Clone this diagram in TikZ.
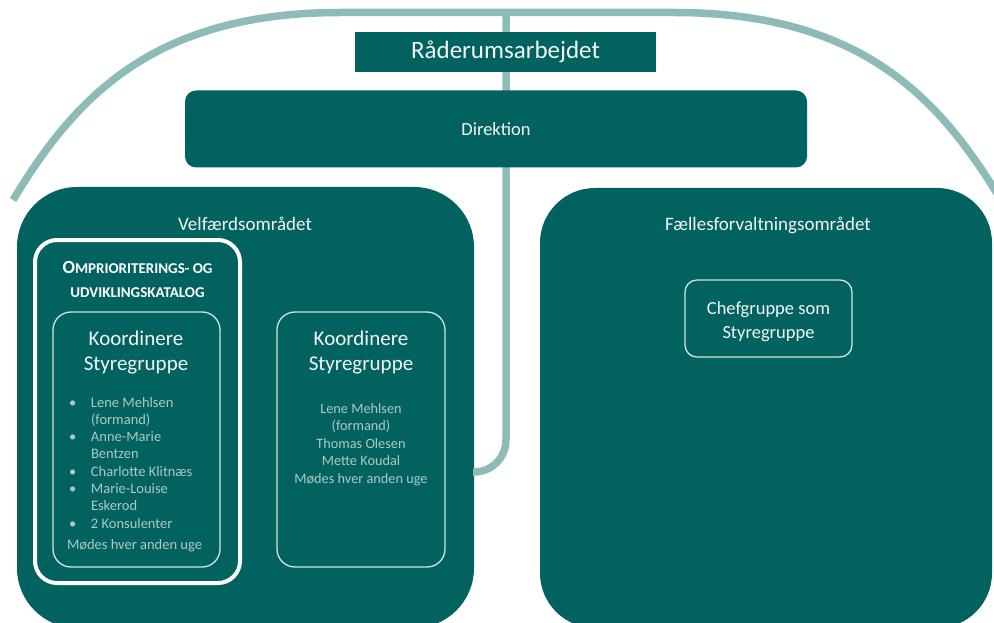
\documentclass[tikz,border=0pt]{standalone}
\usepackage{fontspec}
\setmainfont{Carlito}
\definecolor{teal}{RGB}{2,98,95}
\definecolor{arcline}{RGB}{141,187,184}
\definecolor{softtxt}{RGB}{172,202,197}
\definecolor{titletxt}{RGB}{240,247,246}
\definecolor{thinborder}{RGB}{210,228,225}
\tikzset{
  box/.style={fill=teal, draw=none, inner sep=0pt, outer sep=0pt},
  link/.style={draw=arcline, line width=7.5pt},
  framebox/.style={draw=thinborder, line width=1.3pt, fill=teal, rounded corners=18pt, inner sep=0pt},
  txt/.style={inner sep=0pt, outer sep=0pt, text=titletxt},
}
\newcommand{\fs}[2]{\fontsize{#1}{#2}\selectfont}
\begin{document}
\begin{tikzpicture}[x=1pt,y=-1pt]
\useasboundingbox (0,0) rectangle (994,623);
\clip (0,0) rectangle (994,623);
% outer arc
\draw[link, line cap=butt] (13,200) .. controls (73,101) and (150,12.5) .. (340,12.5) -- (674,12.5) .. controls (864,12.5) and (941,101) .. (1001,200);
% main boxes
\node[box, rounded corners=60pt, minimum width=457pt, minimum height=441pt] (velf) at (245.5,407.5) {};
\node[box, rounded corners=55pt, minimum width=452pt, minimum height=440pt] (faelles) at (766,408) {};
% vertical connector
\coordinate (top) at (506,12);
\coordinate (vend) at (473,472);
\draw[link, rounded corners=32pt] (top) -- (top |- vend) -- (vend);
% top boxes
\node[box, minimum width=301pt, minimum height=40pt, text=titletxt, font=\fs{25}{29}] (raad) at (505.5,52) {Råderumsarbejdet};
\node[box, rounded corners=11pt, minimum width=622pt, minimum height=77pt, text=titletxt, font=\fs{18.5}{22}] (dir) at (496,129) {Direktion};
% area labels
\node[txt, font=\fs{19}{22}] (velflbl) at (245,224) {Velfærdsområdet};
\node[txt, font=\fs{19}{22}] (faelleslbl) at (768,225) {Fællesforvaltningsområdet};
% Chefgruppe
\node[framebox, rounded corners=12pt, minimum width=167pt, minimum height=77pt, inner sep=0pt] (chef) at (768.5,318.5) {};
\node[txt, anchor=base, text=titletxt] (cheflbl) at (768.5,314) {\parbox[t]{165pt}{\centering\fs{18.5}{24}Chefgruppe som\\Styregruppe}};
% Omprioriterings frame
\node[draw=white, line width=4pt, fill=teal, rounded corners=22pt, minimum width=205pt, minimum height=343pt, inner sep=0pt] (ompri) at (137.5,411.5) {};
\node[txt, anchor=base, text=white] (omprilbl) at (137.5,273.5) {\parbox[t]{200pt}{\centering\bfseries\fs{15}{24}%
{\fs{18.5}{24}O}MPRIORITERINGS- OG\\UDVIKLINGSKATALOG}};
% left inner box
\node[framebox, minimum width=167pt, minimum height=255pt] (koordA) at (136.5,439.5) {};
\node[txt, anchor=base] (koordAtitle) at (136,345.5) {\parbox[t]{160pt}{\centering\fs{21}{25}Koordinere\\Styregruppe}};
\node[txt, anchor=base west, text=softtxt] (koordAlist) at (67,407) {\parbox[t]{150pt}{\raggedright\fs{14.5}{17.3}%
\makebox[24pt][l]{\hspace{2pt}•}Lene Mehlsen\\
\hspace*{24pt}(formand)\\
\makebox[24pt][l]{\hspace{2pt}•}Anne-Marie\\
\hspace*{24pt}Bentzen\\
\makebox[24pt][l]{\hspace{2pt}•}Charlotte Klitnæs\\
\makebox[24pt][l]{\hspace{2pt}•}Marie-Louise\\
\hspace*{24pt}Eskerod\\
\makebox[24pt][l]{\hspace{2pt}•}2 Konsulenter\\[4.5pt]
Mødes hver anden uge}};
% middle box
\node[framebox, minimum width=168pt, minimum height=255pt] (koordB) at (361,439.5) {};
\node[txt, anchor=base] (koordBtitle) at (361,345.5) {\parbox[t]{160pt}{\centering\fs{21}{25}Koordinere\\Styregruppe}};
\node[txt, anchor=base, text=softtxt] (koordBlist) at (361,413) {\parbox[t]{165pt}{\centering\fs{14.3}{17.6}%
Lene Mehlsen\\(formand)\\Thomas Olesen\\Mette Koudal\\Mødes hver anden uge}};
\end{tikzpicture}
\end{document}
